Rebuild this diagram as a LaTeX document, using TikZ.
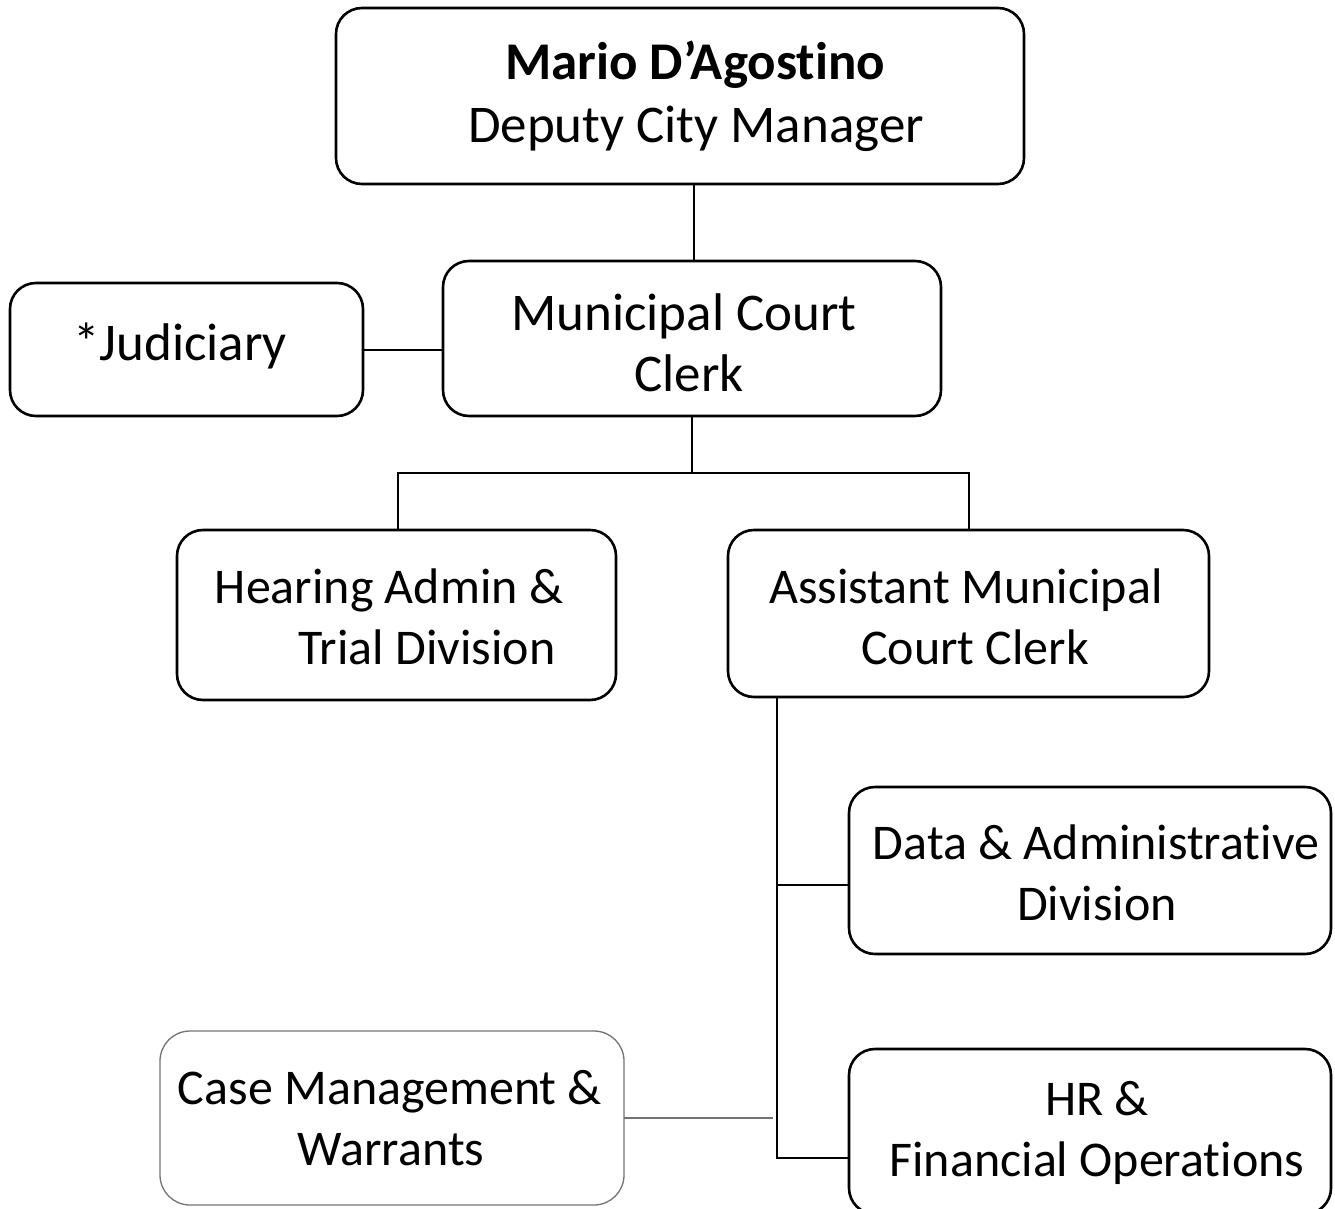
\documentclass[tikz,border=0pt]{standalone}
\usepackage{fontspec}
\setmainfont[Ligatures={NoCommon}]{Carlito}
\begin{document}
\begin{tikzpicture}[x=1pt,y=-1pt,
  box/.style={draw=black,line width=2.6pt,rounded corners=26pt,inner sep=0pt,outer sep=0pt},
  softbox/.style={draw=black!55,line width=1.3pt,rounded corners=30pt,inner sep=0pt,outer sep=0pt},
  txt/.style={anchor=base,inner sep=0pt,font=\fontsize{50}{60}\selectfont},
  bigtxt/.style={anchor=base,inner sep=0pt,font=\fontsize{53}{63}\selectfont},
  conn/.style={draw=black,line width=2pt},
  softconn/.style={draw=black!55,line width=1.2pt}]
\useasboundingbox (0,0) rectangle (1335,1209);
% boxes
\node[box,minimum width=688pt,minimum height=176pt] (top) at (680,96) {};
\node[box,minimum width=353pt,minimum height=133pt] (jud) at (186.5,349.5) {};
\node[box,minimum width=498pt,minimum height=155pt] (mcc) at (692,338.5) {};
\node[box,minimum width=439pt,minimum height=170pt] (hear) at (396.5,615) {};
\node[box,minimum width=481pt,minimum height=167pt] (asst) at (968.5,613.5) {};
\node[box,minimum width=482pt,minimum height=167pt] (data) at (1090,870.5) {};
\node[box,minimum width=482pt,minimum height=165pt] (hr) at (1090,1131.5) {};
\node[softbox,minimum width=464pt,minimum height=174pt] (case) at (392,1118) {};
% texts
\node[bigtxt,font=\fontsize{53}{63}\selectfont\bfseries] (t1a) at (695,80) {Mario D’Agostino};
\node[bigtxt] (t1b) at (696,143) {Deputy City Manager};
\node[bigtxt] (t2) at (180,360) {*Judiciary};
\node[bigtxt] (t3a) at (684,330) {Municipal Court};
\node[bigtxt] (t3b) at (689,391) {Clerk};
\node[txt] (t4a) at (389,603) {Hearing Admin \&};
\node[txt] (t4b) at (427,664) {Trial Division};
\node[txt] (t5a) at (966,603) {Assistant Municipal};
\node[txt] (t5b) at (975,664) {Court Clerk};
\node[txt] (t6a) at (1096,859) {Data \& Administrative};
\node[txt] (t6b) at (1097,920) {Division};
\node[txt] (t7a) at (1097,1115) {HR \&};
\node[txt] (t7b) at (1097,1176) {Financial Operations};
\node[txt] (t8a) at (390,1104) {Case Management \&};
\node[txt] (t8b) at (391,1165) {Warrants};
% connectors
\draw[conn] (top.south -| 694,0) -- (mcc.north -| 694,0);
\draw[conn] (jud.east) -- (jud.east -| mcc.west);
\coordinate (j1) at (692,473);
\draw[conn] (mcc.south) -- (j1);
\draw[conn] (hear.north -| 398,0) |- (j1) -| (asst.north);
\coordinate (vtop) at (777,697);
\coordinate (vdata) at (777,885);
\coordinate (vbot) at (777,1158);
\draw[conn] (vtop) -- (vbot) -- (vbot -| hr.west);
\draw[conn] (vdata) -- (vdata -| data.west);
\coordinate (cend) at (773,1118);
\draw[softconn] (case.east) -- (cend);
\end{tikzpicture}
\end{document}
